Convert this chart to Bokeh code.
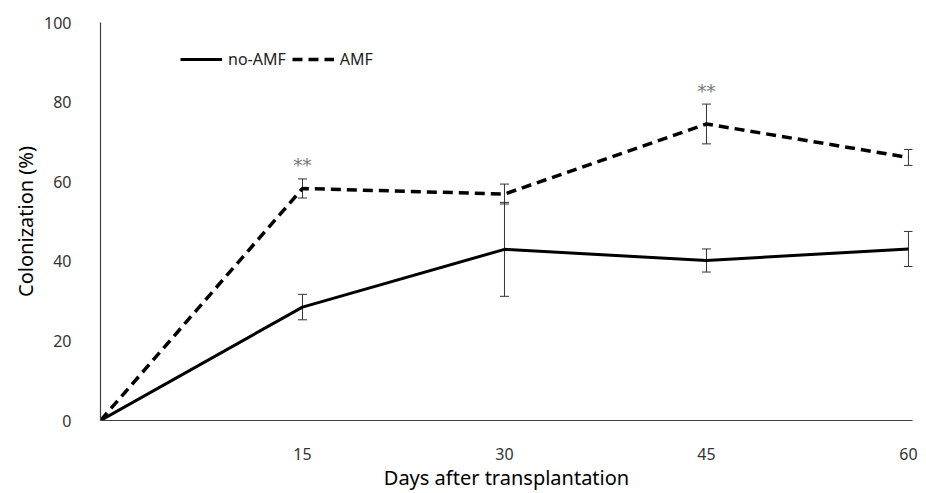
from bokeh.plotting import figure
from bokeh.models import ColumnDataSource, Whisker, TeeHead, Legend, LegendItem, FixedTicker, Range1d
from bokeh.core.properties import value
from bokeh.embed import file_html
from bokeh.resources import INLINE

# Root colonization (%) by days after transplantation
days = [0, 15, 30, 45, 60]
no_amf = [0, 28.5, 43.0, 40.2, 43.1]
no_amf_err = [0, 3.2, 11.8, 2.9, 4.4]
amf = [0, 58.3, 56.9, 74.5, 66.1]
amf_err = [0, 2.4, 2.5, 5.0, 2.0]
x_ticks = [15, 30, 45, 60]
y_ticks = [0, 20, 40, 60, 80, 100]
signif_days = [15, 45]
signif_mark = "**"

FONT = "Noto Sans"

p = figure(width=926, height=493, output_backend="svg", toolbar_location=None,
           x_range=Range1d(0, 60.3), y_range=Range1d(0, 100),
           min_border_left=100, min_border_right=14, min_border_top=22, min_border_bottom=73)
p.outline_line_color = None
p.xgrid.visible = False
p.ygrid.visible = False

# series lines
r_no = p.line(days, no_amf, line_color="black", line_width=3)
r_amf = p.line(days, amf, line_color="black", line_width=3.5, line_dash="10 6")

# error bars (no bar at day 0)
def whisker_source(vals, errs):
    xs = days[1:]
    v = vals[1:]
    e = errs[1:]
    return ColumnDataSource(dict(x=xs, lower=[a - b for a, b in zip(v, e)],
                                 upper=[a + b for a, b in zip(v, e)]))

for vals, errs in ((no_amf, no_amf_err), (amf, amf_err)):
    src = whisker_source(vals, errs)
    w = Whisker(source=src, base="x", lower="lower", upper="upper", dimension="height",
                line_color="#333333", line_width=1,
                upper_head=TeeHead(size=9, line_color="#333333", line_width=1),
                lower_head=TeeHead(size=9, line_color="#333333", line_width=1))
    p.add_layout(w)

# significance marks above the AMF error bars
sig_y = [amf[days.index(d)] + amf_err[days.index(d)] for d in signif_days]
p.text(x=signif_days, y=sig_y, text=[signif_mark] * len(signif_days),
       text_font=value("DejaVu Serif"), text_font_size="18px", text_color="#777777",
       text_align="center", text_baseline="middle", y_offset=-13)

# legend
legend = Legend(items=[LegendItem(label="no-AMF", renderers=[r_no]),
                       LegendItem(label="AMF", renderers=[r_amf])],
                orientation="horizontal", location=(80, 350),
                glyph_width=42, glyph_height=20, label_standoff=6, spacing=6,
                padding=0, margin=0, border_line_alpha=0, background_fill_alpha=0,
                label_text_font=FONT, label_text_font_size="16px", label_text_color="#222222")
p.add_layout(legend)

# axes
p.xaxis.ticker = FixedTicker(ticks=x_ticks)
p.yaxis.ticker = FixedTicker(ticks=y_ticks)
for ax in (p.xaxis, p.yaxis):
    ax.major_tick_line_color = None
    ax.minor_tick_line_color = None
    ax.axis_line_color = "#404040"
    ax.axis_line_width = 1.2
    ax.major_label_text_font = FONT
    ax.major_label_text_font_size = "16px"
    ax.major_label_text_color = "#333333"
    ax.axis_label_text_font = FONT
    ax.axis_label_text_font_size = "20px"
    ax.axis_label_text_font_style = "normal"
    ax.axis_label_text_color = "black"

p.xaxis.axis_label = "Days after transplantation"
p.yaxis.axis_label = "Colonization (%)"
p.xaxis.major_label_standoff = 21
p.yaxis.major_label_standoff = 23
p.xaxis.axis_label_standoff = 1
p.yaxis.axis_label_standoff = 2

open("out.html", "w").write(file_html(p, INLINE))
